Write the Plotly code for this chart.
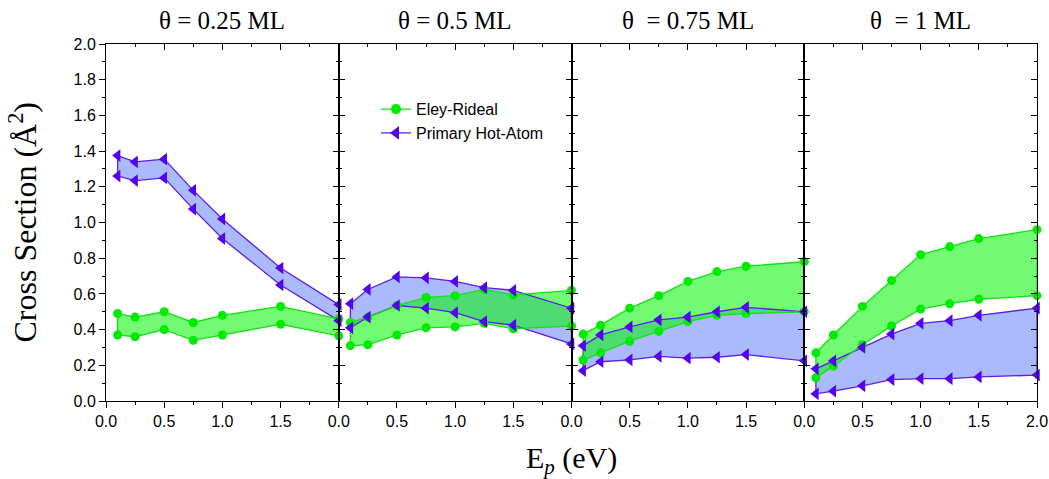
import plotly.graph_objects as go

# ---------------- data ----------------
panel_titles = ["θ = 0.25 ML", "θ = 0.5 ML", "θ  = 0.75 ML", "θ  = 1 ML"]

x_p1 = [0.1, 0.25, 0.5, 0.75, 1.0, 1.5, 2.0]
x_p234 = [0.1, 0.25, 0.5, 0.75, 1.0, 1.25, 1.5, 2.0]

# Eley-Rideal upper / lower bounds
er_hi_1 = [0.49, 0.47, 0.50, 0.44, 0.48, 0.53, 0.46]
er_lo_1 = [0.37, 0.36, 0.40, 0.34, 0.37, 0.43, 0.365]
er_hi_2 = [0.44, 0.47, 0.535, 0.58, 0.59, 0.625, 0.595, 0.62]
er_lo_2 = [0.31, 0.315, 0.37, 0.41, 0.415, 0.435, 0.405, 0.42]
er_hi_3 = [0.375, 0.425, 0.52, 0.59, 0.67, 0.725, 0.755, 0.78]
er_lo_3 = [0.23, 0.27, 0.335, 0.39, 0.445, 0.48, 0.49, 0.50]
er_hi_4 = [0.27, 0.37, 0.53, 0.675, 0.82, 0.865, 0.91, 0.96]
er_lo_4 = [0.13, 0.195, 0.315, 0.42, 0.515, 0.545, 0.57, 0.59]

# Primary Hot-Atom upper / lower bounds
ha_hi_1 = [1.375, 1.34, 1.355, 1.18, 1.02, 0.745, 0.54]
ha_lo_1 = [1.26, 1.235, 1.25, 1.075, 0.91, 0.65, 0.45]
ha_hi_2 = [0.545, 0.625, 0.695, 0.69, 0.67, 0.635, 0.62, 0.52]
ha_lo_2 = [0.41, 0.47, 0.535, 0.52, 0.495, 0.445, 0.425, 0.32]
ha_hi_3 = [0.31, 0.37, 0.415, 0.455, 0.47, 0.50, 0.525, 0.50]
ha_lo_3 = [0.17, 0.22, 0.23, 0.25, 0.24, 0.245, 0.26, 0.225]
ha_hi_4 = [0.18, 0.225, 0.30, 0.375, 0.435, 0.45, 0.48, 0.52]
ha_lo_4 = [0.04, 0.055, 0.085, 0.12, 0.125, 0.125, 0.135, 0.145]

xs = [x_p1, x_p234, x_p234, x_p234]
er_hi = [er_hi_1, er_hi_2, er_hi_3, er_hi_4]
er_lo = [er_lo_1, er_lo_2, er_lo_3, er_lo_4]
ha_hi = [ha_hi_1, ha_hi_2, ha_hi_3, ha_hi_4]
ha_lo = [ha_lo_1, ha_lo_2, ha_lo_3, ha_lo_4]

x_tickvals_inner = [0.0, 0.5, 1.0, 1.5]
x_tickvals_last = [0.0, 0.5, 1.0, 1.5, 2.0]
y_tickvals = [0.0, 0.2, 0.4, 0.6, 0.8, 1.0, 1.2, 1.4, 1.6, 1.8, 2.0]

# ---------------- style ----------------
G_LINE = "rgb(20,225,20)"
G_MARK = "rgb(0,235,0)"
G_FILL = "rgba(0,245,0,0.55)"
B_LINE = "rgb(90,30,235)"
B_MARK = "rgb(85,0,240)"
B_FILL = "rgba(80,110,250,0.48)"

SANS = "Arial, Liberation Sans, sans-serif"
TICK_FONT_X = dict(family=SANS, size=16, color="black")
TICK_FONT_Y = dict(family=SANS, size=16, color="black")
SERIF = "Times New Roman, Liberation Serif, serif"

fig = go.Figure()


def polygon(x, hi, lo):
    px = list(x) + list(x)[::-1] + [x[0]]
    py = list(hi) + list(lo)[::-1] + [hi[0]]
    return px, py


for i in range(4):
    xa = "x" if i == 0 else f"x{i+1}"
    ya = "y" if i == 0 else f"y{i+1}"
    x = xs[i]
    # fills (blue first, green on top)
    for hi, lo, fc in [(ha_hi[i], ha_lo[i], B_FILL), (er_hi[i], er_lo[i], G_FILL)]:
        px, py = polygon(x, hi, lo)
        fig.add_trace(go.Scatter(x=px, y=py, xaxis=xa, yaxis=ya, mode="lines",
                                 fill="toself", fillcolor=fc, line=dict(width=0),
                                 showlegend=False, hoverinfo="skip", cliponaxis=False))
    # outlines
    for hi, lo, lc in [(ha_hi[i], ha_lo[i], B_LINE), (er_hi[i], er_lo[i], G_LINE)]:
        px, py = polygon(x, hi, lo)
        fig.add_trace(go.Scatter(x=px, y=py, xaxis=xa, yaxis=ya, mode="lines",
                                 line=dict(color=lc, width=1.3),
                                 showlegend=False, hoverinfo="skip", cliponaxis=False))
    # markers
    for yy in (er_hi[i], er_lo[i]):
        fig.add_trace(go.Scatter(x=x, y=yy, xaxis=xa, yaxis=ya, mode="markers",
                                 marker=dict(symbol="circle", size=9, color=G_MARK),
                                 showlegend=False, cliponaxis=False))
    for yy in (ha_hi[i], ha_lo[i]):
        fig.add_trace(go.Scatter(x=x, y=yy, xaxis=xa, yaxis=ya, mode="markers",
                                 marker=dict(symbol="triangle-left", size=11, color=B_MARK),
                                 showlegend=False, cliponaxis=False))
    # invisible trace for overlay axes (top / right ticks)
    fig.add_trace(go.Scatter(x=[None], y=[None], xaxis=f"x{i+5}", yaxis=f"y{i+5}",
                             mode="markers", showlegend=False, hoverinfo="skip"))

# legend entries
fig.add_trace(go.Scatter(x=[None], y=[None], mode="lines+markers", name="Eley-Rideal",
                         line=dict(color=G_LINE, width=1.3),
                         marker=dict(symbol="circle", size=10, color=G_MARK)))
fig.add_trace(go.Scatter(x=[None], y=[None], mode="lines+markers", name="Primary Hot-Atom",
                         line=dict(color=B_LINE, width=1.3),
                         marker=dict(symbol="triangle-left", size=12, color=B_MARK)))

layout = {}
w = 1.0 / 4
for i in range(4):
    dom = [i * w, (i + 1) * w]
    xkey = "xaxis" if i == 0 else f"xaxis{i+1}"
    ykey = "yaxis" if i == 0 else f"yaxis{i+1}"
    yref = "y" if i == 0 else f"y{i+1}"
    xref = "x" if i == 0 else f"x{i+1}"
    tv = x_tickvals_last if i == 3 else x_tickvals_inner
    layout[xkey] = dict(domain=dom, range=[0, 2], anchor=yref, automargin=False,
                        tickvals=tv, ticktext=[f"{v:.1f}" for v in tv],
                        ticks="outside", ticklen=6, tickwidth=1, tickcolor="black",
                        minor=dict(ticks="outside", tickvals=[0.25, 0.75, 1.25, 1.75], ticklen=3,
                                   tickcolor="black", showgrid=False),
                        showline=True, linecolor="black", linewidth=1,
                        showgrid=False, zeroline=False, tickfont=TICK_FONT_X)
    layout[ykey] = dict(domain=[0, 1], range=[0, 2], anchor=xref, automargin=False,
                        tickvals=y_tickvals, ticktext=[f"{v:.1f}" for v in y_tickvals],
                        ticks="outside" if i == 0 else "inside", ticklen=6, tickwidth=1,
                        tickcolor="black",
                        minor=dict(ticks="outside" if i == 0 else "inside", dtick=0.1, ticklen=3,
                                   tickcolor="black", showgrid=False),
                        showticklabels=(i == 0),
                        showline=True, linecolor="black", linewidth=1,
                        showgrid=False, zeroline=False, tickfont=TICK_FONT_Y)
    # top axis overlay
    layout[f"xaxis{i+5}"] = dict(domain=dom, range=[0, 2], overlaying=xref, side="top",
                                 anchor=yref, automargin=False,
                                 tickvals=x_tickvals_last, ticks="inside", ticklen=6,
                                 tickcolor="black",
                                 minor=dict(ticks="inside", tickvals=[0.25, 0.75, 1.25, 1.75],
                                            ticklen=3, tickcolor="black", showgrid=False),
                                 showticklabels=False, showline=True, linecolor="black",
                                 showgrid=False, zeroline=False)
    layout[f"yaxis{i+5}"] = dict(domain=[0, 1], range=[0, 2], overlaying=yref, side="right",
                                 anchor=xref, automargin=False,
                                 tickvals=y_tickvals, ticks="inside", ticklen=6,
                                 tickcolor="black",
                                 minor=dict(ticks="inside", dtick=0.1, ticklen=3,
                                            tickcolor="black", showgrid=False),
                                 showticklabels=False, showline=True, linecolor="black",
                                 showgrid=False, zeroline=False)

annotations = []
for i, t in enumerate(panel_titles):
    annotations.append(dict(text=t, x=(i + 0.5) * w, y=1.0, xref="paper", yref="paper",
                            xanchor="center", yanchor="bottom", yshift=8, showarrow=False,
                            font=dict(family=SERIF, size=25, color="black")))
annotations.append(dict(text="E<sub><i>p</i></sub> (eV)", x=0.5, y=0, xref="paper", yref="paper",
                        xanchor="center", yanchor="top", yshift=-38, showarrow=False,
                        font=dict(family=SERIF, size=30, color="black")))
annotations.append(dict(text="Cross Section (Å<sup>2</sup>)", x=0, y=0.5, xref="paper", yref="paper",
                        xanchor="right", yanchor="middle", xshift=-62, textangle=-90,
                        showarrow=False, font=dict(family=SERIF, size=32, color="black")))

fig.update_layout(
    width=1049, height=479,
    margin=dict(l=106, r=12, t=44, b=78),
    paper_bgcolor="white", plot_bgcolor="white",
    showlegend=True,
    legend=dict(x=0.29, y=0.865, xanchor="left", yanchor="top",
                bgcolor="rgba(0,0,0,0)", borderwidth=0, tracegroupgap=0,
                font=dict(family=SANS, size=16, color="black")),
    annotations=annotations,
    **layout,
)

fig.write_html("out.html", config={"displayModeBar": False},
               post_script="document.body.style.margin='0';document.body.style.padding='0';")
